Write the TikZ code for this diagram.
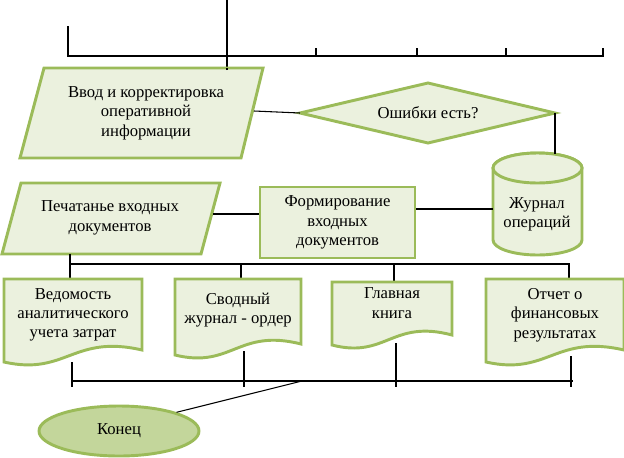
\documentclass[tikz,border=0pt]{standalone}
\usepackage{fontspec}
\setmainfont{Liberation Serif}
\usetikzlibrary{shapes.geometric}
\definecolor{gfill}{HTML}{EBF1DE}
\definecolor{gline}{HTML}{9BBB59}
\definecolor{gdark}{HTML}{C3D69B}
\tikzset{
  shp/.style={draw=gline,fill=gfill,line width=2.2pt,line join=miter},
  lbl/.style={align=center,font=\fontsize{12.5}{14.5}\selectfont,inner sep=0pt},
  con/.style={draw=black,line width=0.8pt},
}
\begin{document}
\begin{tikzpicture}[x=0.75pt,y=-0.75pt]
\useasboundingbox (0,0) rectangle (624,457);
% top bus
\coordinate (t0) at (227,0);
\coordinate (t1) at (227,70);
\coordinate (hl) at (68,56);
\coordinate (hr) at (604,56);
\draw[con] (t0) -- (t1);
\draw[con] (68,26) -- (hl) -- (hr);
\foreach \x in {316,417,506,603} \draw[con] (\x,48) -- (\x,56);
% parallelogram 1
\path[shp] (44,68) -- (263,68) -- (241,158) -- (20,158) -- cycle;
\node[lbl] (vvod) at (146,113) {Ввод и корректировка\\оперативной\\информации};
\draw[con] (t1) -- (227,68);
% diamond
\path[shp] (300,113) -- (428,83) -- (555,113) -- (428,143) -- cycle;
\node[lbl] (err) at (428,113) {Ошибки есть?};
\coordinate (dl) at (300,113); \coordinate (dr) at (555,113);
\draw[con] (254,111) -- (dl);
% cylinder
\path[shp] (493,168) arc[start angle=180,end angle=360,x radius=44.5,y radius=15]
  -- (582,240) arc[start angle=0,end angle=180,x radius=44.5,y radius=15] -- cycle;
\path[shp] (537.5,168) ellipse[x radius=44.5,y radius=15];
\node[lbl] (jur) at (537,214) {Журнал\\операций};
\coordinate (ct) at (555,153.5);
\draw[con] (dr) -- (ct);
% parallelogram 2
\path[shp] (21,183) -- (220,183) -- (201,254) -- (2,254) -- cycle;
\node[lbl] (pech) at (110,218) {Печатанье входных\\документов};
% rectangle
\node[shp,lbl,minimum width=155*0.75pt,minimum height=71*0.75pt] (form) at (337.5,222.5) {Формирование\\входных\\документов};
\draw[con] (213,214) -- (form.west|-0,214);
\draw[con] (form.east|-0,209) -- (493,209);
% middle bus
\draw[con] (70,254) -- (70,264);
\draw[con] (70,264) -- (570,264);
\foreach \x/\b in {70/280,241/280,394/282,569/280} \draw[con] (\x,264) -- (\x,\b);
% documents
\newcommand\docsh[5]{% x1 y1 x2 yb dip
  \path[shp] (#1,#2) -- (#3,#2) -- (#3,#4-#5) .. controls ({#1+0.5*(#3-#1)},#4-#5-16) and ({#1+0.45*(#3-#1)},#4+14) .. (#1,#4) -- cycle;}
\docsh{4}{279}{142}{362}{12}
\node[lbl] (d1) at (73,315) {Ведомость\\аналитического\\учета затрат};
\docsh{175}{279}{301}{355}{11}
\node[lbl] (d2) at (238,310) {Сводный\\журнал - ордер};
\docsh{332}{282}{452}{345}{10}
\node[lbl] (d3) at (392,303) {Главная\\книга};
\docsh{486}{279}{624}{362}{12}
\node[lbl] (d4) at (555,315) {Отчет о\\финансовых\\результатах};
% bottom bus
\foreach \x/\a in {72/362,244/351,396/343,571/356} \draw[con] (\x,\a) -- (\x,387);
\coordinate (bl) at (72,381); \coordinate (br) at (573,381);
\draw[con] (bl) -- (br);
% end
\node[draw=gline,fill=gdark,line width=2.2pt,ellipse,minimum width=160*0.75pt,minimum height=50*0.75pt,lbl] (end) at (119,431) {Конец};
\coordinate (bm) at (302,381);
\draw[con] (bm) -- (end.north east);
\end{tikzpicture}
\end{document}
